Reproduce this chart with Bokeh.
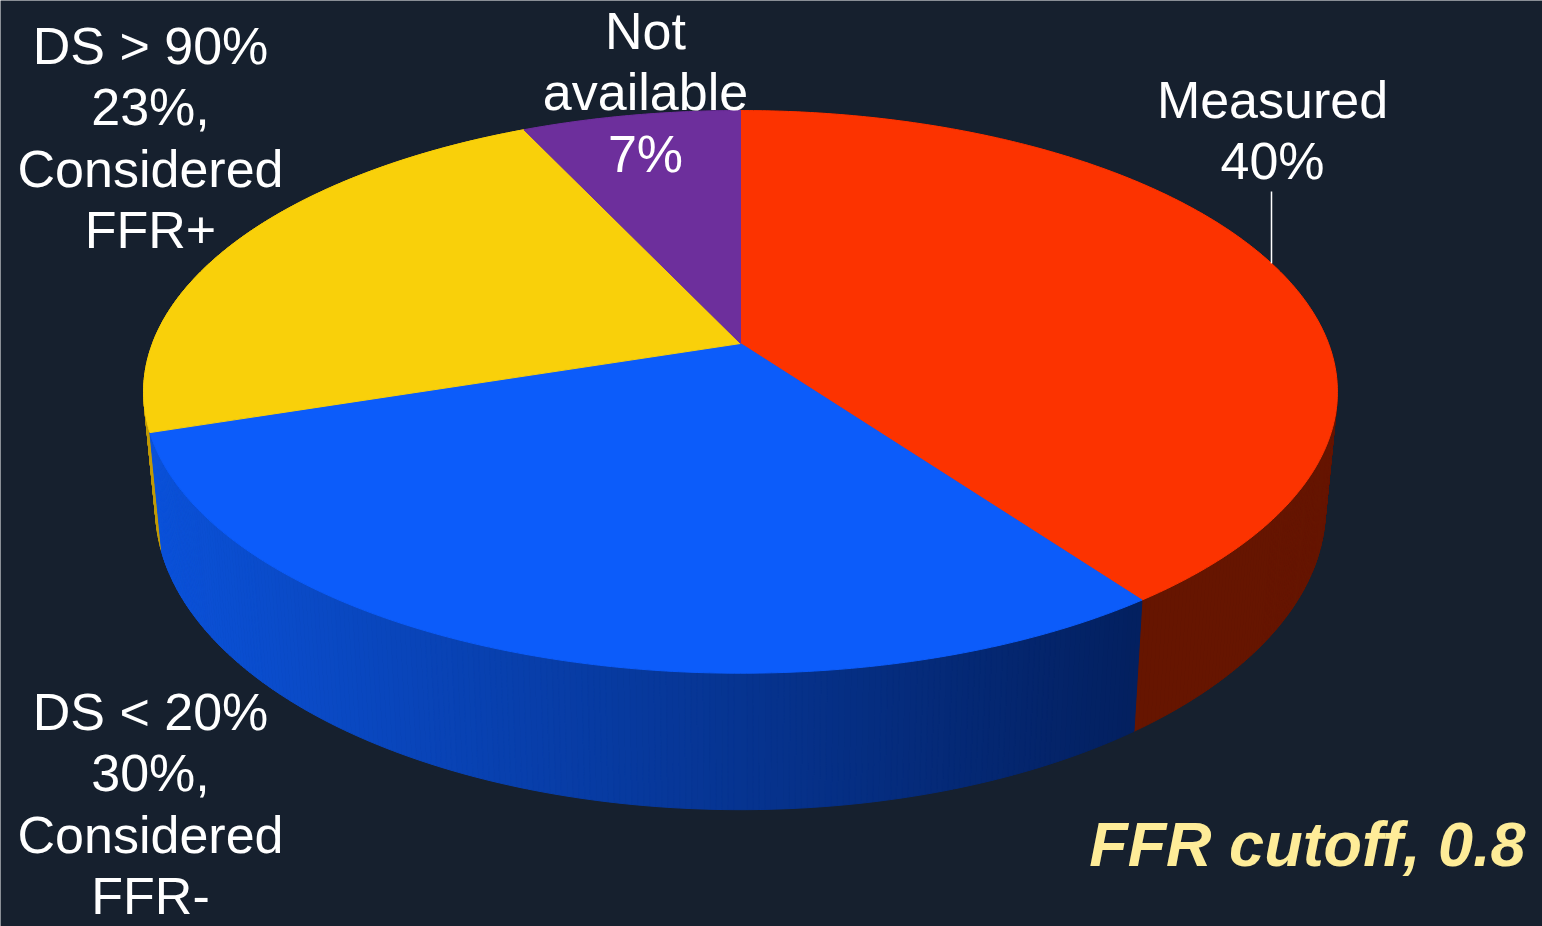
import math
from bokeh.plotting import figure
from bokeh.models import Range1d, ColumnDataSource
from bokeh.core.properties import value
from bokeh.embed import file_html
from bokeh.resources import INLINE

# ---------------- data ----------------
categories = ["Measured", "DS < 20%", "DS > 90%", "Not available"]
shares = [40, 30, 23, 7]
top_colors = ["#fc3300", "#0c5cfa", "#f9d00a", "#6d2f9c"]
side_colors = ["#661500", "gradient", "#c09a08", "#3c1a58"]
label_lines = [
    ["Measured", "40%"],
    ["DS < 20%", "30%,", "Considered", "FFR-"],
    ["DS > 90%", "23%,", "Considered", "FFR+"],
    ["Not", "available", "7%"],
]
note_text = "FFR cutoff, 0.8"

# ---------------- style / layout ----------------
W, H = 1542, 926
BG = "#16202e"
FONT = "Liberation Sans"
CX, CY, A, B, K = 740.0, 343.0, 588.0, 273.0, 0.172
D0, XS = 113.0, 0.98
BLUE_L = (11, 82, 218)
BLUE_R = (3, 32, 96)
LABEL_PX = 52
NOTE_PX = 63
BASE_FIX = 0.38  # bokeh alphabetic baseline correction (in em)

def top_pt(th):
    s, c = math.sin(th), math.cos(th)
    w = 1 + K * c
    return CX + A * s / w, CY - B * c / w

def bot_pt(th):
    x, y = top_pt(th)
    w = 1 + K * math.cos(th)
    return CX + (x - CX) * XS, y + D0 / w

def blue_at(x):
    t = min(max((x - 150.0) / (1130.0 - 150.0), 0.0), 1.0)
    r = [round(BLUE_L[i] + (BLUE_R[i] - BLUE_L[i]) * t) for i in range(3)]
    return "#%02x%02x%02x" % tuple(r)

total = float(sum(shares))
bounds = []
acc = 0.0
for v in shares:
    a0 = acc / total * 2 * math.pi
    acc += v
    a1 = acc / total * 2 * math.pi
    bounds.append((a0, a1))

p = figure(width=W, height=H, x_range=Range1d(0, W), y_range=Range1d(H, 0),
           output_backend="svg", toolbar_location=None, min_border=0)
p.axis.visible = False
p.grid.visible = False
p.outline_line_color = None
p.background_fill_color = BG
p.border_fill_color = BG

# ---- side strips (back to front) ----
strips = []
step = math.radians(0.5)
for i, (a0, a1) in enumerate(bounds):
    n = max(2, int(math.ceil((a1 - a0) / step)))
    for j in range(n):
        t0 = a0 + (a1 - a0) * j / n
        t1 = a0 + (a1 - a0) * (j + 1) / n
        p0, p1 = top_pt(t0), top_pt(t1)
        q0, q1 = bot_pt(t0), bot_pt(t1)
        xs = [p0[0], p1[0], q1[0], q0[0]]
        ys = [p0[1], p1[1], q1[1], q0[1]]
        depth = -math.cos((t0 + t1) / 2)
        if side_colors[i] == "gradient":
            col = blue_at(sum(xs) / 4)
        else:
            col = side_colors[i]
        strips.append((depth, xs, ys, col))
strips.sort(key=lambda s: s[0])
p.patches(xs=[s[1] for s in strips], ys=[s[2] for s in strips],
          fill_color=[s[3] for s in strips], line_color=[s[3] for s in strips], line_width=1)

# ---- top faces ----
txs, tys = [], []
for (a0, a1) in bounds:
    n = max(4, int(math.ceil((a1 - a0) / math.radians(0.5))))
    pts = [top_pt(a0 + (a1 - a0) * j / n) for j in range(n + 1)]
    txs.append([CX] + [q[0] for q in pts])
    tys.append([CY] + [q[1] for q in pts])
p.patches(xs=txs, ys=tys, fill_color=top_colors, line_color=top_colors, line_width=1)

# ---- leader line for Measured ----
mid = (bounds[0][0] + bounds[0][1]) / 2
lx, ly = top_pt(mid)
p.segment(x0=[lx], y0=[ly], x1=[lx], y1=[191], line_color="white", line_width=1.5)

# ---- labels (anchor = centre x, first-line baseline) ----
anchors = [(1272, 119), (150, 731), (150, 65), (645, 50)]
LH = 61.5
tx, ty, tt = [], [], []
for (ax, ay), lines in zip(anchors, label_lines):
    for k, s in enumerate(lines):
        tx.append(ax)
        ty.append(ay + k * LH - BASE_FIX * LABEL_PX)
        tt.append(s)
src = ColumnDataSource(dict(x=tx, y=ty, text=tt))
p.text(x="x", y="y", text="text", source=src, text_align="center", text_baseline="alphabetic",
       text_font=value(FONT), text_font_size="%dpx" % LABEL_PX, text_color="white")

p.text(x=[1525], y=[867 - BASE_FIX * NOTE_PX], text=[note_text], text_align="right",
       text_baseline="alphabetic", text_font=value(FONT), text_font_size="%dpx" % NOTE_PX,
       text_font_style="bold italic", text_color="#feec98")

open("out.html", "w").write(file_html(p, INLINE))
